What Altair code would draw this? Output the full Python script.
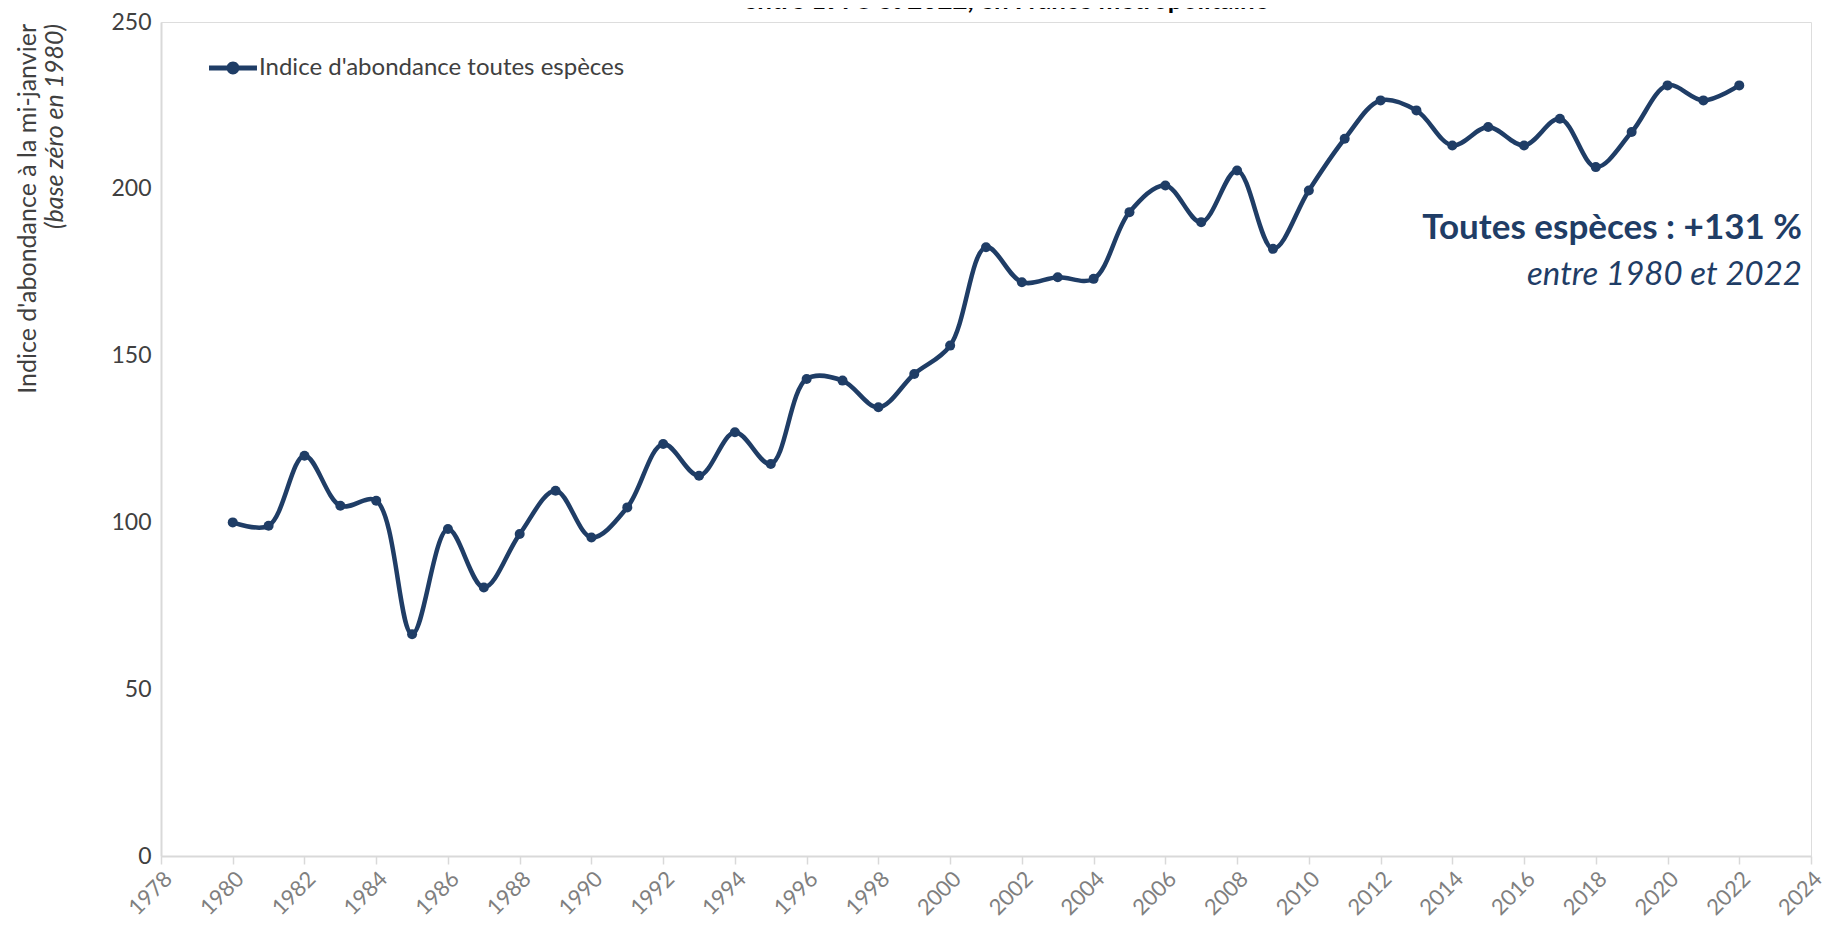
import altair as alt
import pandas as pd

years = list(range(1980, 2023))
values = [100, 99, 120, 105, 106.5, 66.5, 98, 80.5, 96.5, 109.5, 95.5, 104.5,
          123.5, 114, 127, 117.5, 143, 142.5, 134.5, 144.5, 153, 182.5, 172,
          173.5, 173, 193, 201, 190, 205.5, 182, 199.5, 215, 226.5, 223.5,
          213, 218.5, 213, 221, 206.5, 217, 231, 226.5, 231]
serie_name = "Indice d'abondance toutes espèces"
x_ticks = list(range(1978, 2025, 2))
y_ticks = [0, 50, 100, 150, 200, 250]

title_text = "entre 1978 et 2022, en France métropolitaine"
y_title_1 = "Indice d'abondance à la mi-janvier"
y_title_2 = "(base zéro en 1980)"
annot_1 = "Toutes espèces : +131 %"
annot_2 = "entre 1980 et 2022"

NAVY = "#1F3D66"
FONT = "Lato"

df = pd.DataFrame({"annee": years, "indice": values, "serie": [serie_name] * len(years)})

W, H = 1650, 834

legend_path = ("M-1,-0.1 L1,-0.1 L1,0.1 L-1,0.1 Z "
               "M-0.27,0 A0.27,0.27 0 1,1 0.27,0 A0.27,0.27 0 1,1 -0.27,0 Z")

x_enc = alt.X("annee:Q",
              scale=alt.Scale(domain=[1978, 2024], nice=False, zero=False),
              axis=alt.Axis(values=x_ticks, format="d", title=None, grid=False,
                            labelAngle=-45, labelAlign="right", labelBaseline="top",
                            labelColor="#7F7F7F", labelFontSize=22, labelFont=FONT,
                            labelPadding=4, labelFlush=False,
                            domainColor="#D9D9D9", domainWidth=2,
                            tickColor="#D9D9D9", tickWidth=1.5, tickSize=8))
y_enc = alt.Y("indice:Q",
              scale=alt.Scale(domain=[0, 250], nice=False),
              axis=alt.Axis(values=y_ticks, title=None, grid=False, ticks=False,
                            labelColor="#404040", labelFontSize=23, labelFont=FONT,
                            labelPadding=10, labelFlush=False,
                            domainColor="#D9D9D9", domainWidth=2))

base = alt.Chart(df)
line = base.mark_line(interpolate="catmull-rom", strokeWidth=4.5).encode(
    x=x_enc, y=y_enc,
    color=alt.Color("serie:N", scale=alt.Scale(range=[NAVY]),
                    legend=alt.Legend(title=None, orient="none", legendX=48, legendY=22,
                                      symbolType=legend_path, symbolSize=2300,
                                      symbolFillColor=NAVY, symbolStrokeColor=NAVY,
                                      symbolStrokeWidth=0, symbolOpacity=1,
                                      labelFont=FONT, labelFontSize=24, labelColor="#404040",
                                      labelOffset=2, labelLimit=700)))
points = base.mark_circle(size=100, opacity=1, color=NAVY).encode(x=x_enc, y=y_enc)

def text_layer(txt, x, y, **kw):
    return alt.Chart(pd.DataFrame({"t": [txt]})).mark_text(**kw).encode(
        text="t:N", x=alt.value(x), y=alt.value(y))

t1 = text_layer(annot_1, 1641, 217, font=FONT, fontSize=35, fontWeight="bold",
                color=NAVY, align="right", baseline="alphabetic")
t2 = text_layer(annot_2, 1641, 263, font=FONT, fontSize=33, fontStyle="italic",
                color=NAVY, align="right", baseline="alphabetic")
yt1 = text_layer(y_title_1, -133, 2, font=FONT, fontSize=25, color="#404040",
                 angle=270, align="right", baseline="middle")
yt2 = text_layer(y_title_2, -106, 2, font=FONT, fontSize=25, fontStyle="italic",
                 color="#404040", angle=270, align="right", baseline="middle")
tt = text_layer(title_text, 845, -13, font=FONT, fontSize=26, fontWeight="bold",
                color="#000000", align="center", baseline="alphabetic")

chart = alt.layer(line, points, t1, t2, yt1, yt2, tt).properties(
    width=W, height=H,
    autosize=alt.AutoSizeParams(type="none"),
    padding={"left": 153, "top": 14, "right": 25, "bottom": 69},
).configure_view(stroke=None).configure(background="white")

chart.save("out.html", embed_options={"renderer": "svg", "actions": False})
